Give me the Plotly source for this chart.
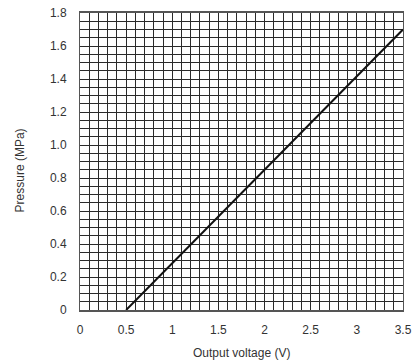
import plotly.graph_objects as go

# characteristic line: output voltage vs pressure
voltage = [0.5, 3.5]
pressure = [0.0, 1.7]

x_ticks = [0, 0.5, 1, 1.5, 2, 2.5, 3, 3.5]
x_labels = ["0", "0.5", "1", "1.5", "2", "2.5", "3", "3.5"]
y_ticks = [0, 0.2, 0.4, 0.6, 0.8, 1.0, 1.2, 1.4, 1.6, 1.8]
y_labels = ["0", "0.2", "0.4", "0.6", "0.8", "1.0", "1.2", "1.4", "1.6", "1.8"]

GRID = "#2a2a2a"
FONT = dict(family="Liberation Sans, Arial, sans-serif", size=12, color="#333")

fig = go.Figure()
fig.add_trace(go.Scatter(
    x=voltage, y=pressure, mode="lines",
    line=dict(color="#111", width=2),
    hoverinfo="skip", showlegend=False,
))

fig.update_xaxes(
    range=[0, 3.5],
    tickvals=x_ticks, ticktext=x_labels,
    showgrid=True, gridcolor=GRID, gridwidth=1,
    minor=dict(dtick=0.1, tick0=0, showgrid=True, gridcolor=GRID, gridwidth=1),
    showline=True, linecolor="#555", linewidth=2, mirror=True,
    ticks="", ticklabelstandoff=8,
    zeroline=False, fixedrange=True, automargin=False,
    tickfont=FONT,
)
fig.update_yaxes(
    range=[0, 1.8],
    tickvals=y_ticks, ticktext=y_labels,
    showgrid=True, gridcolor=GRID, gridwidth=1,
    minor=dict(dtick=0.05, tick0=0, showgrid=True, gridcolor=GRID, gridwidth=1),
    showline=True, linecolor="#555", linewidth=1, mirror=True,
    ticks="", ticklabelstandoff=10,
    zeroline=False, fixedrange=True, automargin=False,
    tickfont=FONT,
)

# axis titles as annotations for exact placement
fig.add_annotation(text="Output voltage (V)", xref="paper", yref="paper",
                   x=0.5, y=0, xanchor="center", yanchor="middle", yshift=-43,
                   showarrow=False, font=FONT)
fig.add_annotation(text="Pressure (MPa)", xref="paper", yref="paper",
                   x=0, y=0.47, xanchor="center", yanchor="middle", xshift=-60,
                   textangle=-90, showarrow=False, font=FONT)

fig.update_layout(
    width=414, height=360,
    margin=dict(l=80, r=11, t=13, b=50),
    paper_bgcolor="white", plot_bgcolor="white",
    font=FONT,
)

# drop the default page margin so the figure sits at the window corner
fig.write_html("out.html", config={"displayModeBar": False},
               post_script="document.body.style.margin='0';"
               "document.body.style.overflow='hidden';")
